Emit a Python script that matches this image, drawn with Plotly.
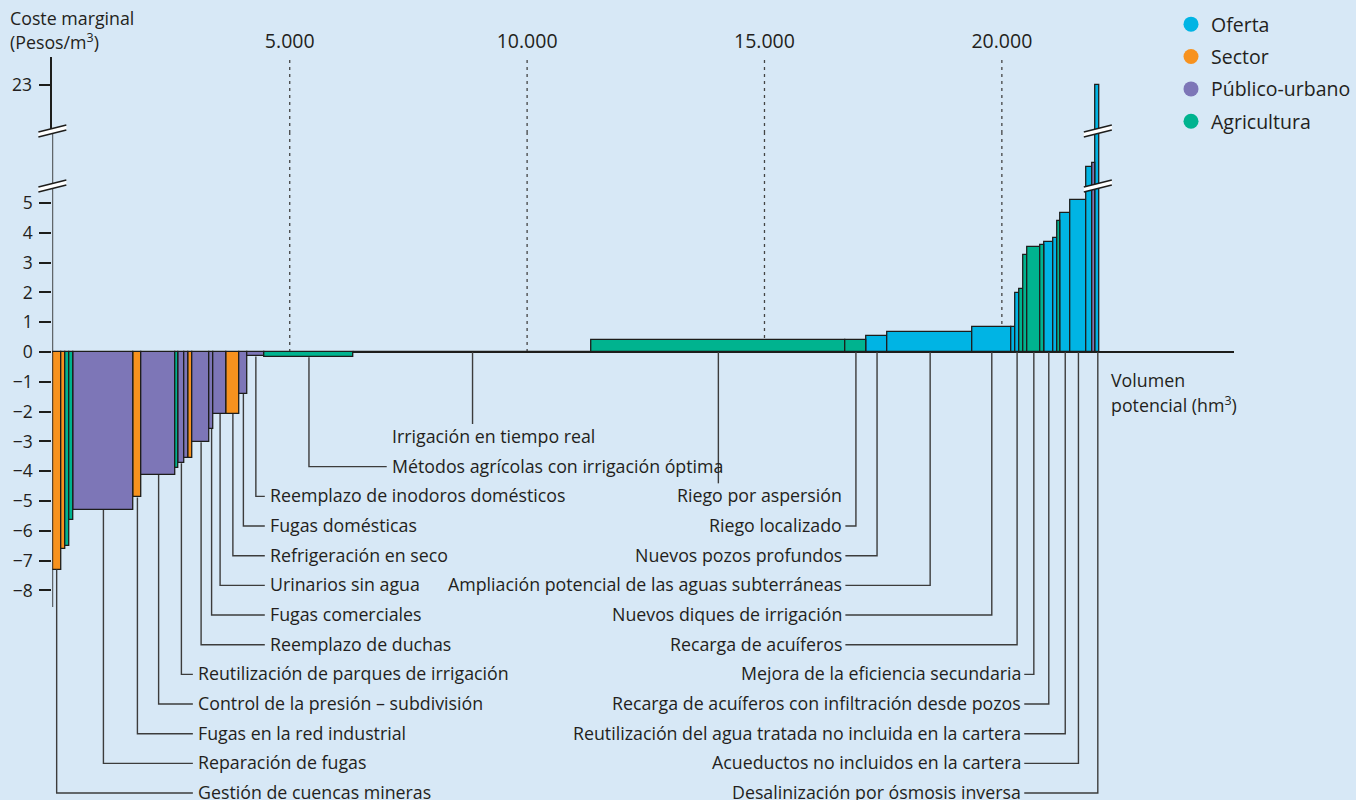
import plotly.graph_objects as go

# ---------------- DATA ----------------
grupos = ["Oferta", "Sector", "Público-urbano", "Agricultura"]

volumen = [181, 90, 93, 84, 1255, 177, 716, 63, 118, 93, 84, 358, 84, 274, 265, 177,
           349, 1888, 5003, 5353, 442, 448, 1789, 808, 84, 90, 90, 84, 267, 90, 183,
           90, 63, 204, 352, 118, 72, 84]
coste = [-7.3, -6.6, -6.5, -5.63, -5.3, -4.88, -4.13, -3.88, -3.73, -3.55, -3.55, -3.03,
         -2.58, -2.08, -2.08, -1.41, -0.15, -0.18, 0.0, 0.39, 0.39, 0.55, 0.68, 0.84,
         0.84, 1.97, 2.11, 3.24, 3.52, 3.58, 3.68, 3.81, 4.39, 4.67, 5.09, 6.2, 6.33, 23]
grupo = ["Sector", "Sector", "Agricultura", "Agricultura", "Público-urbano", "Sector",
         "Público-urbano", "Agricultura", "Público-urbano", "Público-urbano", "Sector",
         "Público-urbano", "Público-urbano", "Público-urbano", "Sector", "Público-urbano",
         "Público-urbano", "Agricultura", "Agricultura", "Agricultura", "Agricultura",
         "Oferta", "Oferta", "Oferta", "Oferta", "Oferta", "Agricultura", "Agricultura",
         "Agricultura", "Agricultura", "Oferta", "Oferta", "Agricultura", "Oferta",
         "Oferta", "Oferta", "Público-urbano", "Oferta"]
etiqueta = ["Gestión de cuencas mineras", "", "", "", "Reparación de fugas",
            "Fugas en la red industrial", "Control de la presión – subdivisión", "",
            "Reutilización de parques de irrigación", "", "", "Reemplazo de duchas",
            "Fugas comerciales", "Urinarios sin agua", "Refrigeración en seco",
            "Fugas domésticas", "Reemplazo de inodoros domésticos",
            "Métodos agrícolas con irrigación óptima", "Irrigación en tiempo real",
            "Riego por aspersión", "Riego localizado", "Nuevos pozos profundos",
            "Ampliación potencial de las aguas subterráneas", "Nuevos diques de irrigación",
            "", "Recarga de acuíferos", "", "", "Mejora de la eficiencia secundaria", "",
            "Recarga de acuíferos con infiltración desde pozos", "", "",
            "Reutilización del agua tratada no incluida en la cartera",
            "Acueductos no incluidos en la cartera", "", "",
            "Desalinización por ósmosis inversa"]

ticks_y_bajo = [-8, -7, -6, -5, -4, -3, -2, -1, 0, 1, 2, 3, 4, 5]
ticks_y_alto = [23]
ticks_x = [5000, 10000, 15000, 20000]
ticks_x_texto = ["5.000", "10.000", "15.000", "20.000"]

# ---------------- STYLE / LAYOUT ----------------
colores = {"Oferta": "#00b4e4", "Sector": "#f7921e",
           "Público-urbano": "#7d76b7", "Agricultura": "#00b38f"}
BG = "#d7e8f6"
TXT = "#231f20"
FONT = "Open Sans"
LBL_SIZE = 17.8

W, H = 1356, 800
X0_PX, X1_PX = 52.4, 1235.0
PXU_X = 0.04751           # px per hm3
Y_ZERO_PX, PXU_Y = 352.0, 29.8
Y_SPLIT_PX, Y_TOP_PX = 133.0, 57.0

x_max = (X1_PX - X0_PX) / PXU_X
y_bot_range = [-(H - Y_ZERO_PX) / PXU_Y, (Y_ZERO_PX - Y_SPLIT_PX) / PXU_Y]
y_top_range = [23 - (Y_SPLIT_PX - 85) / PXU_Y, 23 + (85 - Y_TOP_PX) / PXU_Y]
y_axis_bottom = -(607 - Y_ZERO_PX) / PXU_Y


def px2x(px):
    return (px - X0_PX) / PXU_X


def pxy2paper(py):
    return 1 - py / H


# label placement: (row, side, text x in px, leader kind)
lbl_layout = {
    "Gestión de cuencas mineras": (12, "left", 198, "elbow"),
    "Reparación de fugas": (11, "left", 198, "elbow"),
    "Fugas en la red industrial": (10, "left", 198, "elbow"),
    "Control de la presión – subdivisión": (9, "left", 198, "elbow"),
    "Reutilización de parques de irrigación": (8, "left", 198, "elbow"),
    "Reemplazo de duchas": (7, "left", 270, "elbow"),
    "Fugas comerciales": (6, "left", 270, "elbow"),
    "Urinarios sin agua": (5, "left", 270, "elbow"),
    "Refrigeración en seco": (4, "left", 270, "elbow"),
    "Fugas domésticas": (3, "left", 270, "elbow"),
    "Reemplazo de inodoros domésticos": (2, "left", 270, "elbow"),
    "Métodos agrícolas con irrigación óptima": (1, "left", 392, "elbow"),
    "Irrigación en tiempo real": (0, "left", 392, "drop"),
    "Riego por aspersión": (2, "right", 843, "drop"),
    "Riego localizado": (3, "right", 843, "elbow"),
    "Nuevos pozos profundos": (4, "right", 843, "elbow"),
    "Ampliación potencial de las aguas subterráneas": (5, "right", 843, "elbow"),
    "Nuevos diques de irrigación": (6, "right", 843, "elbow"),
    "Recarga de acuíferos": (7, "right", 843, "elbow"),
    "Mejora de la eficiencia secundaria": (8, "right", 1022, "elbow"),
    "Recarga de acuíferos con infiltración desde pozos": (9, "right", 1022, "elbow"),
    "Reutilización del agua tratada no incluida en la cartera": (10, "right", 1022, "elbow"),
    "Acueductos no incluidos en la cartera": (11, "right", 1022, "elbow"),
    "Desalinización por ósmosis inversa": (12, "right", 1022, "elbow"),
}
ROW0_PX, ROW_STEP_PX = 436.0, 29.67

# ---------------- GEOMETRY FROM DATA ----------------
inicio = []
acc = 0
for v in volumen:
    inicio.append(acc)
    acc += v
centro = [s + v / 2 for s, v in zip(inicio, volumen)]

fig = go.Figure()

for g in grupos:
    idx = [i for i in range(len(volumen)) if grupo[i] == g]
    fig.add_trace(go.Bar(
        x=[centro[i] for i in idx], y=[coste[i] for i in idx],
        width=[volumen[i] for i in idx],
        marker=dict(color=colores[g], line=dict(color="#1d1d1b", width=1.3)),
        showlegend=False, hoverinfo="skip", xaxis="x", yaxis="y"))
    idx_top = [i for i in idx if coste[i] > y_bot_range[1]]
    if idx_top:
        fig.add_trace(go.Bar(
            x=[centro[i] for i in idx_top], y=[coste[i] for i in idx_top],
            width=[volumen[i] for i in idx_top],
            marker=dict(color=colores[g], line=dict(color="#1d1d1b", width=1.3)),
            showlegend=False, hoverinfo="skip", xaxis="x2", yaxis="y2"))

# legend entries
for g in grupos:
    fig.add_trace(go.Scatter(x=[None], y=[None], mode="markers", name=g,
                             legendgroup=g,
                             marker=dict(color=colores[g], size=15, symbol="circle"),
                             xaxis="x", yaxis="y"))

# leader lines
lx, ly = [], []
annotations = []
for i, lab in enumerate(etiqueta):
    if not lab:
        continue
    row, side, tpx, kind = lbl_layout[lab]
    ry = (Y_ZERO_PX - (ROW0_PX + row * ROW_STEP_PX)) / PXU_Y
    ystart = min(coste[i], 0)
    if kind == "drop":
        lx += [centro[i], centro[i], None]
        ly += [ystart, ry + 12 / PXU_Y, None]
    else:
        if side == "left":
            xend = px2x(tpx - 5)
        else:
            xend = px2x(tpx + 3)
        lx += [centro[i], centro[i], xend, None]
        ly += [ystart, ry - 1.0 / PXU_Y, ry - 1.0 / PXU_Y, None]
    annotations.append(dict(
        x=px2x(tpx), y=ry, xref="x", yref="y", text=lab, showarrow=False,
        xanchor="left" if side == "left" else "right", yanchor="middle",
        xshift=-2 if side == "left" else 2,
        font=dict(family=FONT, size=LBL_SIZE, color=TXT)))

fig.add_trace(go.Scatter(x=lx, y=ly, mode="lines",
                         line=dict(color="#3c3c3c", width=1.4),
                         showlegend=False, hoverinfo="skip", xaxis="x", yaxis="y"))

shapes = []
# dotted grid lines at x ticks
for xv in ticks_x:
    shapes.append(dict(type="line", xref="x", yref="y", x0=xv, x1=xv, y0=0,
                       y1=y_bot_range[1], line=dict(color="#444", width=1.3, dash="3px,4px"),
                       layer="below"))
    shapes.append(dict(type="line", xref="x2", yref="y2", x0=xv, x1=xv,
                       y0=y_top_range[0], y1=y_top_range[1] - 1 / PXU_Y,
                       line=dict(color="#444", width=1.3, dash="3px,4px"), layer="below"))
# y axis line (lower part)
shapes.append(dict(type="line", xref="x", yref="y", x0=0, x1=0, y0=y_axis_bottom,
                   y1=y_bot_range[1], line=dict(color="#1d1d1b", width=1.6)))


def break_mark(cx_px, cy_px):
    hw, rise, gap = 14, 7, 5
    pts = [(cx_px - hw, cy_px + rise / 2 - gap / 2), (cx_px + hw, cy_px - rise / 2 - gap / 2),
           (cx_px + hw, cy_px - rise / 2 + gap / 2), (cx_px - hw, cy_px + rise / 2 + gap / 2)]
    pp = [(p[0] / W, pxy2paper(p[1])) for p in pts]
    path = "M {} {} L {} {} L {} {} L {} {} Z".format(
        pp[0][0], pp[0][1], pp[1][0], pp[1][1], pp[2][0], pp[2][1], pp[3][0], pp[3][1])
    out = [dict(type="path", xref="paper", yref="paper", path=path,
                fillcolor="white", line=dict(width=0), layer="above")]
    for a, b in ((pp[0], pp[1]), (pp[3], pp[2])):
        out.append(dict(type="line", xref="paper", yref="paper", x0=a[0], y0=a[1],
                        x1=b[0], y1=b[1], line=dict(color="#1d1d1b", width=1.6),
                        layer="above"))
    return out


tall = max(range(len(coste)), key=lambda k: coste[k])
for cy in (131, 186):
    shapes += break_mark(X0_PX, cy)
    shapes += break_mark(X0_PX + centro[tall] * PXU_X, cy)

# titles
annotations += [
    dict(x=10 / W, y=pxy2paper(18), xref="paper", yref="paper", text="Coste marginal",
         showarrow=False, xanchor="left", yanchor="middle", xshift=-2,
         font=dict(family=FONT, size=LBL_SIZE, color=TXT)),
    dict(x=10 / W, y=pxy2paper(42), xref="paper", yref="paper",
         text="(Pesos/m<sup>3</sup>)", showarrow=False, xanchor="left", yanchor="middle",
         xshift=-2, font=dict(family=FONT, size=LBL_SIZE, color=TXT)),
    dict(x=1112 / W, y=pxy2paper(380), xref="paper", yref="paper", text="Volumen",
         showarrow=False, xanchor="left", yanchor="middle", xshift=-2,
         font=dict(family=FONT, size=LBL_SIZE, color=TXT)),
    dict(x=1112 / W, y=pxy2paper(404), xref="paper", yref="paper",
         text="potencial (hm<sup>3</sup>)", showarrow=False, xanchor="left",
         yanchor="middle", xshift=-2, font=dict(family=FONT, size=LBL_SIZE, color=TXT)),
]

xdom = [X0_PX / W, X1_PX / W]
fig.update_layout(
    width=W, height=H, margin=dict(l=0, r=0, t=0, b=0),
    paper_bgcolor=BG, plot_bgcolor="rgba(0,0,0,0)",
    barmode="overlay", bargap=0,
    font=dict(family=FONT, size=LBL_SIZE, color=TXT),
    xaxis=dict(domain=xdom, range=[0, x_max], anchor="y", showgrid=False,
               zeroline=False, showticklabels=False, ticks="", showline=False),
    yaxis=dict(domain=[0, pxy2paper(Y_SPLIT_PX)], range=y_bot_range, anchor="x",
               tickvals=ticks_y_bajo,
               ticktext=[str(v).replace("-", "−") for v in ticks_y_bajo],
               ticks="outside", ticklen=12, tickwidth=1.5, tickcolor="#1d1d1b",
               showgrid=False, showline=False, zeroline=True, zerolinecolor="#1d1d1b",
               zerolinewidth=2, ticklabelstandoff=3,
               tickfont=dict(family=FONT, size=17.5, color=TXT)),
    xaxis2=dict(domain=xdom, range=[0, x_max], anchor="y2", matches="x", side="top",
                tickvals=ticks_x, ticktext=ticks_x_texto, ticks="", showgrid=False,
                zeroline=False, showline=False, ticklabelstandoff=4,
                tickfont=dict(family=FONT, size=19.5, color=TXT)),
    yaxis2=dict(domain=[pxy2paper(Y_SPLIT_PX), pxy2paper(Y_TOP_PX)], range=y_top_range,
                anchor="x2", tickvals=ticks_y_alto, ticktext=["23"], ticks="outside",
                ticklen=12, tickwidth=1.5, tickcolor="#1d1d1b", showgrid=False,
                showline=True, linecolor="#1d1d1b", linewidth=1.6, zeroline=False,
                ticklabelstandoff=3, tickfont=dict(family=FONT, size=17.5, color=TXT)),
    legend=dict(x=1172 / W, y=pxy2paper(5), xanchor="left", yanchor="top",
                font=dict(family=FONT, size=19.5, color=TXT), tracegroupgap=4,
                bgcolor="rgba(0,0,0,0)", itemsizing="trace"),
    shapes=shapes, annotations=annotations,
)

fig.write_html("out.html", config={"displayModeBar": False},
               post_script="document.body.style.margin='0px';")
